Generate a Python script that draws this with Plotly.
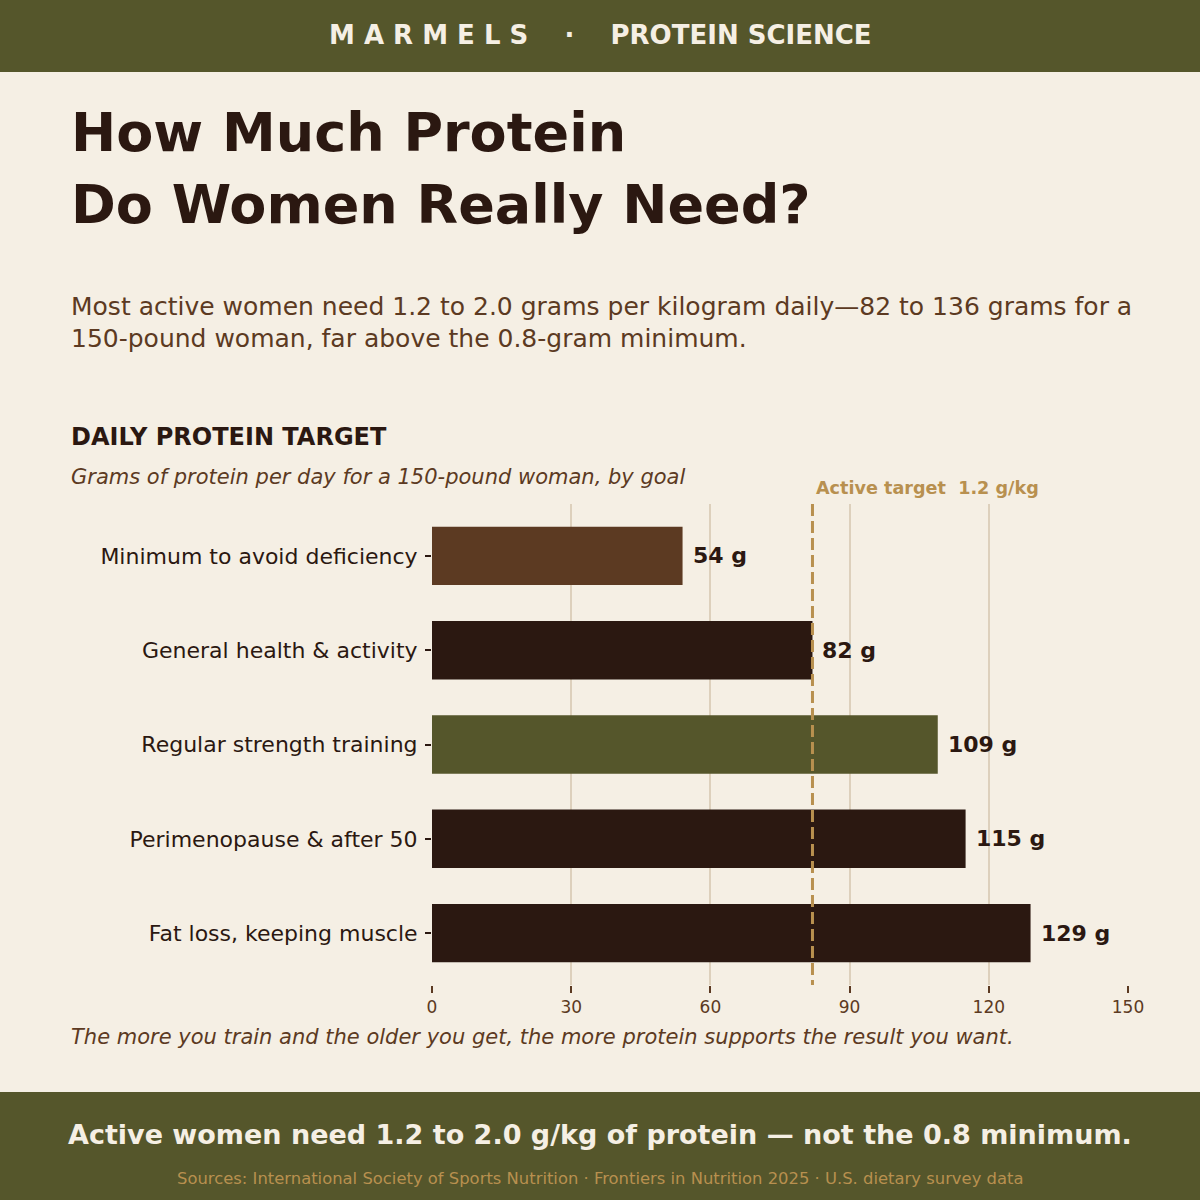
import plotly.graph_objects as go

categories = ["Minimum to avoid deficiency", "General health & activity", "Regular strength training",
              "Perimenopause & after 50", "Fat loss, keeping muscle"]
values = [54, 82, 109, 115, 129]
bar_colors = ["#5C3A22", "#2B1811", "#55562B", "#2B1811", "#2B1811"]
x_ticks = [0, 30, 60, 90, 120, 150]
target_value = 82

BG = "#F5EFE4"
DARK = "#2B1811"
BROWN = "#5C3A22"
OLIVE = "#55562B"
GOLD = "#B8904F"
GRID = "#DDD0BC"
FONT = "DejaVu Sans"

L, R, T, B = 432, 1128, 504, 985
def px(x):
    return (x - L) / (R - L)
def py(y):
    return (B - y) / (B - T)

fig = go.Figure(go.Bar(
    x=values, y=categories, orientation="h",
    marker=dict(color=bar_colors, line=dict(width=0)),
    width=0.62, hoverinfo="skip",
))

shapes = [
    dict(type="rect", xref="paper", yref="paper", x0=px(0), x1=px(1200), y0=py(0), y1=py(72),
         fillcolor=OLIVE, line=dict(width=0), layer="below"),
    dict(type="rect", xref="paper", yref="paper", x0=px(0), x1=px(1200), y0=py(1092), y1=py(1200),
         fillcolor=OLIVE, line=dict(width=0), layer="below"),
    dict(type="line", xref="x", yref="paper", x0=target_value, x1=target_value, y0=1, y1=0,
         line=dict(color=GOLD, width=3, dash="12px,5px")),
]

def ann(text, x, y, size, color, bold=False, italic=False, xanchor="left"):
    t = text
    if bold:
        t = f"<b>{t}</b>"
    if italic:
        t = f"<i>{t}</i>"
    dx = -3 if xanchor == "left" else 0
    return dict(text=t, xref="paper", yref="paper", x=px(x + dx), y=py(y), xanchor=xanchor, yanchor="middle",
                showarrow=False, font=dict(family=FONT, size=size, color=color), align="left")

annotations = [
    ann("M A R M E L S    ·    PROTEIN SCIENCE", 600, 35, 26, BG, bold=True, xanchor="center"),
    ann("How Much Protein", 72, 132, 54, DARK, bold=True),
    ann("Do Women Really Need?", 72, 204, 54, DARK, bold=True),
    ann("Most active women need 1.2 to 2.0 grams per kilogram daily—82 to 136 grams for a", 72, 306, 25, BROWN),
    ann("150-pound woman, far above the 0.8-gram minimum.", 72, 338, 25, BROWN),
    ann("DAILY PROTEIN TARGET", 72, 437, 24, DARK, bold=True),
    ann("Grams of protein per day for a 150-pound woman, by goal", 72, 477, 21, BROWN, italic=True),
    dict(text="<b>Active target  1.2 g/kg</b>", xref="x", yref="paper", x=target_value, y=py(488),
         xanchor="left", yanchor="middle", xshift=2, showarrow=False,
         font=dict(family=FONT, size=17.6, color=GOLD)),
    ann("The more you train and the older you get, the more protein supports the result you want.",
        72, 1037, 21, BROWN, italic=True),
    ann("Active women need 1.2 to 2.0 g/kg of protein — not the 0.8 minimum.", 600, 1134, 27, BG,
        bold=True, xanchor="center"),
    ann("Sources: International Society of Sports Nutrition · Frontiers in Nutrition 2025 · U.S. dietary survey data",
        600, 1178, 16.4, GOLD, xanchor="center"),
]

for cat, v in zip(categories, values):
    annotations.append(dict(text=f"<b>{v} g</b>", xref="x", yref="y", x=v, y=cat, xanchor="left",
                            yanchor="middle", xshift=8, showarrow=False,
                            font=dict(family=FONT, size=22, color=DARK)))

fig.update_layout(
    width=1200, height=1200,
    margin=dict(l=L, r=1200 - R, t=T, b=1200 - B, pad=0),
    paper_bgcolor=BG, plot_bgcolor=BG,
    showlegend=False, shapes=shapes, annotations=annotations,
    font=dict(family=FONT),
    xaxis=dict(range=[0, 150], tickvals=x_ticks, showgrid=True, gridcolor=GRID, gridwidth=2,
               zeroline=False, showline=False, ticks="outside", ticklen=7, tickcolor=BROWN, tickwidth=2,
               tickfont=dict(family=FONT, size=17, color=BROWN), fixedrange=True),
    yaxis=dict(categoryorder="array", categoryarray=categories, autorange=False, range=[4.55, -0.55],
               showgrid=False, zeroline=False, showline=False, ticks="outside", ticklen=6,
               tickcolor=DARK, tickwidth=2, tickfont=dict(family=FONT, size=22, color=DARK),
               ticklabelstandoff=3, fixedrange=True),
)

fig.write_html("out.html")
